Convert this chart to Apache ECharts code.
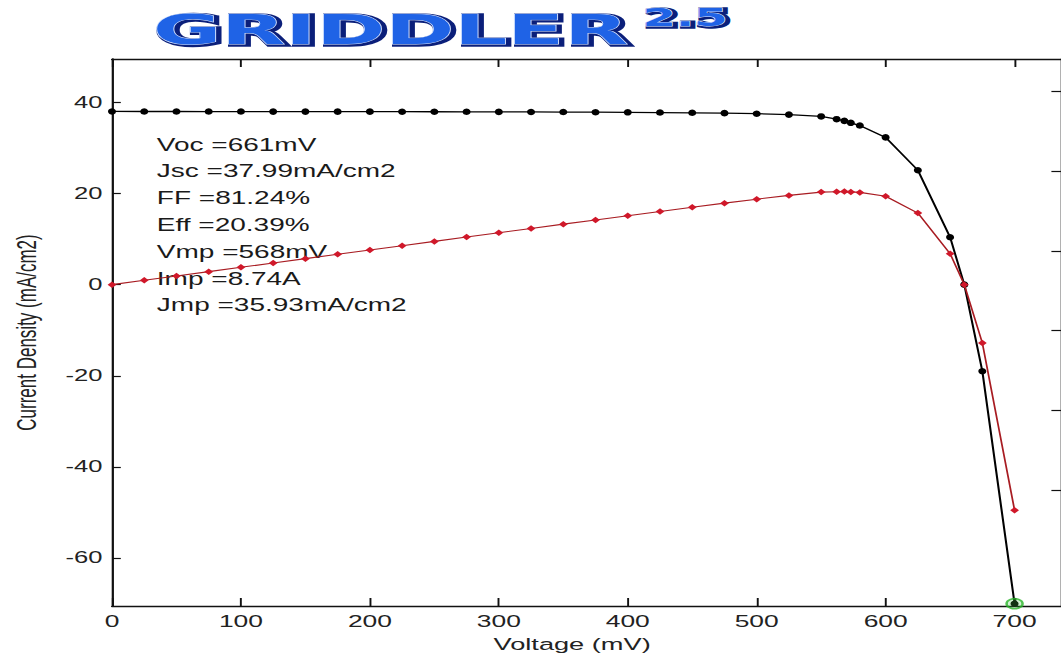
<!DOCTYPE html>
<html>
<head>
<meta charset="utf-8">
<script src="https://cdn.jsdelivr.net/npm/echarts@6/dist/echarts.min.js"></script>
<style>
  html, body { margin: 0; padding: 0; background: #ffffff; overflow: hidden; }
  /* the plot is laid out narrow and stretched sideways to the full page width */
  #chart { width: 663px; height: 658px; transform: scaleX(1.6003); transform-origin: 0 0; }
</style>
</head>
<body>
<div id="chart"></div>
<script>
// Voltage sweep points (mV)
const voltage = [0, 25, 50, 75, 100, 125, 150, 175, 200, 225, 250, 275, 300, 325,
  350, 375, 400, 425, 450, 475, 500, 525, 550, 562, 568, 573, 580, 600, 625, 650, 661, 675, 700];
// Current density J (mA/cm2)
const currentDensity = [37.99, 37.98, 37.98, 37.97, 37.97, 37.96, 37.96, 37.95, 37.95, 37.94,
  37.93, 37.92, 37.9, 37.88, 37.86, 37.83, 37.8, 37.75, 37.7, 37.62, 37.5, 37.3, 36.9,
  36.3, 35.93, 35.5, 34.9, 32.3, 25.1, 10.4, 0, -19, -70];
// Power density P (mW/cm2)
const powerDensity = [0, 0.95, 1.9, 2.85, 3.8, 4.75, 5.7, 6.65, 7.6, 8.54, 9.49, 10.44,
  11.38, 12.32, 13.27, 14.19, 15.12, 16.04, 16.97, 17.88, 18.75, 19.58, 20.3,
  20.39, 20.41, 20.34, 20.24, 19.4, 15.7, 6.8, 0, -12.8, -49.5];
// Highlighted end point of the sweep
const highlightPoint = [700, -70];

const xTicks = [0, 100, 200, 300, 400, 500, 600, 700];
const yTicks = [-60, -40, -20, 0, 20, 40];
const rightTicks = [-20, -10, 0, 10, 20, 30];
const cellParams = ['Voc =661mV', 'Jsc =37.99mA/cm2', 'FF =81.24%', 'Eff =20.39%',
  'Vmp =568mV', 'Imp =8.74A', 'Jmp =35.93mA/cm2'];

const FONT = '"Liberation Sans", Arial, sans-serif';
const chart = echarts.init(document.getElementById('chart'), null, { renderer: 'svg', width: 663, height: 658 });

const jvData = voltage.map((v, i) => [v, currentDensity[i]]);
const pvData = voltage.map((v, i) => [v, powerDensity[i]]);

const frameLine = { show: true, onZero: false, lineStyle: { color: '#111', width: 1.4 } };
const tickStyle = { color: '#111', width: 1.2 };

const paramTexts = cellParams.map((t, i) => ({
  type: 'text', left: 98, top: 135.5 + i * 26.8,
  style: { text: t, font: '17.5px ' + FONT, fill: '#1a1a1a' }
}));

// logo: dark outline underneath, then blue letters with a thin light rim
function logoText(text, left, top, size, scaleX) {
  const font = 'bold ' + size + 'px "DejaVu Sans"';
  return [
    { type: 'text', left: left, top: top, scaleX: scaleX,
      style: { text: text, font: font, fill: '#0b1f7a', stroke: '#0b1f7a', lineWidth: 3.5 } },
    { type: 'text', left: left, top: top, scaleX: scaleX,
      style: { text: text, font: font, fill: '#1f63e6', stroke: '#d8e6ff', lineWidth: 0.9 } }
  ];
}

chart.setOption({
  backgroundColor: '#ffffff',
  animation: false,
  grid: { left: 68.75, top: 59, width: 596.3, height: 547, containLabel: false },
  xAxis: [{
    type: 'value', position: 'bottom', min: 0, max: 736,
    axisLine: frameLine,
    axisTick: { inside: true, length: 8, customValues: xTicks, lineStyle: tickStyle },
    axisLabel: { customValues: xTicks, fontFamily: FONT, fontSize: 16.5, color: '#222', margin: 7 },
    splitLine: { show: false },
    name: 'Voltage (mV)', nameLocation: 'middle', nameGap: 30,
    nameTextStyle: { fontFamily: FONT, fontSize: 17, color: '#222', padding: [0, 18, 0, 0] }
  }, {
    type: 'value', position: 'top', min: 0, max: 736,
    axisLine: frameLine,
    axisTick: { inside: true, length: 8, customValues: xTicks, lineStyle: tickStyle },
    axisLabel: { show: false }, splitLine: { show: false }
  }],
  yAxis: [{
    type: 'value', position: 'left', min: -70.5, max: 49.5,
    axisLine: frameLine,
    axisTick: { inside: true, length: 5.5, customValues: yTicks, lineStyle: tickStyle },
    axisLabel: { customValues: yTicks, fontFamily: FONT, fontSize: 16, color: '#222', margin: 6 },
    splitLine: { show: false },
    name: 'Current Density (mA/cm2)', nameLocation: 'middle', nameGap: 45,
    nameTextStyle: { fontFamily: FONT, fontSize: 17, color: '#222' }
  }, {
    // right-hand axis sits just past the page edge; only its inward ticks show
    type: 'value', position: 'right', min: -34.6, max: 34.1,
    axisLine: { show: true, onZero: false, lineStyle: { color: '#111', width: 1.4 } },
    axisTick: { show: true, inside: true, length: 6, customValues: rightTicks, lineStyle: tickStyle },
    axisLabel: { show: false }, splitLine: { show: false }
  }],
  graphic: logoText('GRIDDLER', 95, 9, 40, 1.3)
    .concat(logoText('2.5', 401, 5, 24, 1.25))
    .concat(paramTexts),
  series: [
    {
      name: 'J', type: 'line', data: jvData, xAxisIndex: 0, yAxisIndex: 0,
      symbol: 'circle', symbolSize: [5, 6.5], z: 3,
      itemStyle: { color: '#000' }, lineStyle: { color: '#000', width: 1.3 }
    },
    {
      name: 'P', type: 'line', data: pvData, xAxisIndex: 0, yAxisIndex: 0,
      symbol: 'diamond', symbolSize: [5.5, 6.5], z: 4,
      itemStyle: { color: '#d0182a' }, lineStyle: { color: '#a81c22', width: 1.1 }
    },
    {
      name: 'End', type: 'scatter', data: [highlightPoint], xAxisIndex: 0, yAxisIndex: 0,
      symbol: 'circle', symbolSize: 10, z: 5,
      itemStyle: { color: 'rgba(70,200,70,0.3)', borderColor: '#2bb52b', borderWidth: 1.6 }
    }
  ]
});
</script>
</body>
</html>
